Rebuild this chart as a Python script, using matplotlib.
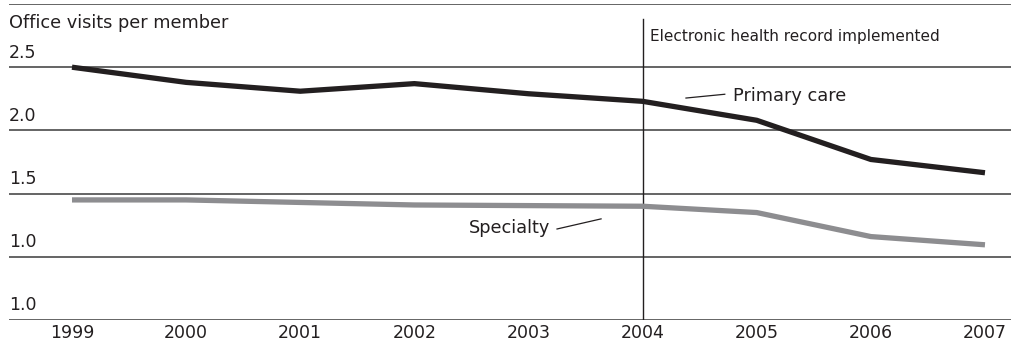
import matplotlib.pyplot as plt
import matplotlib.transforms as mtransforms

years = [1999, 2000, 2001, 2002, 2003, 2004, 2005, 2006, 2007]
primary_care = [2.50, 2.38, 2.31, 2.37, 2.29, 2.23, 2.08, 1.77, 1.665]
specialty = [1.45, 1.45, 1.43, 1.41, 1.405, 1.40, 1.35, 1.16, 1.095]

grid_levels = [0.5, 1.0, 1.5, 2.0, 2.5, 3.0]
level_labels = ["1.0", "1.0", "1.5", "2.0", "2.5"]
ehr_year = 2004

plt.rcParams['font.family'] = ['DejaVu Sans']

fig = plt.figure(figsize=(10.11, 3.51), dpi=100)
ax = fig.add_axes([9 / 1011, 31 / 351, 1 - 9 / 1011, 316 / 351])
ax.set_xlim(1998.448, 2007.228)
ax.set_ylim(0.5, 3.0)
for s in ax.spines.values():
    s.set_visible(False)

# horizontal rules
for lv in grid_levels:
    ax.axhline(lv, color='#3a3a3a', lw=1.1, zorder=1)

# y labels sit on top of their rules at the left edge
trans = mtransforms.blended_transform_factory(ax.transAxes, ax.transData)
for lv, lab in zip(grid_levels, level_labels):
    ax.text(0.0, lv + 0.045, lab, transform=trans, ha='left', va='bottom',
            fontsize=12.5, color='#231f20')
ax.text(0.0, 2.78, 'Office visits per member', transform=trans, ha='left',
        va='bottom', fontsize=12.8, color='#231f20')

# marker for EHR rollout
ax.plot([ehr_year, ehr_year], [0.5, 2.88], color='#231f20', lw=1.0, zorder=2)
ax.text(ehr_year + 0.065, 2.74, 'Electronic health record implemented',
        fontsize=11, color='#231f20', va='center', ha='left')

ax.plot(years, specialty, color='#8d8d90', lw=3.8, solid_capstyle='butt',
        solid_joinstyle='miter', zorder=3)
ax.plot(years, primary_care, color='#231f20', lw=3.8, solid_capstyle='butt',
        solid_joinstyle='miter', zorder=4)

# series labels with short leader lines
ax.plot([2004.38, 2004.72], [2.256, 2.286], color='#231f20', lw=0.9)
ax.text(2004.79, 2.27, 'Primary care', fontsize=12.8, va='center', ha='left',
        color='#231f20')
ax.plot([2003.25, 2003.636], [1.22, 1.30], color='#231f20', lw=0.9)
ax.text(2003.19, 1.23, 'Specialty', fontsize=12.8, va='center', ha='right',
        color='#231f20')

ax.set_yticks([])
ax.set_xticks(years)
ax.set_xticklabels([str(y) for y in years], fontsize=12.5, color='#231f20')
ax.tick_params(axis='x', length=0, pad=3)

fig.savefig('out.png', dpi=100)
